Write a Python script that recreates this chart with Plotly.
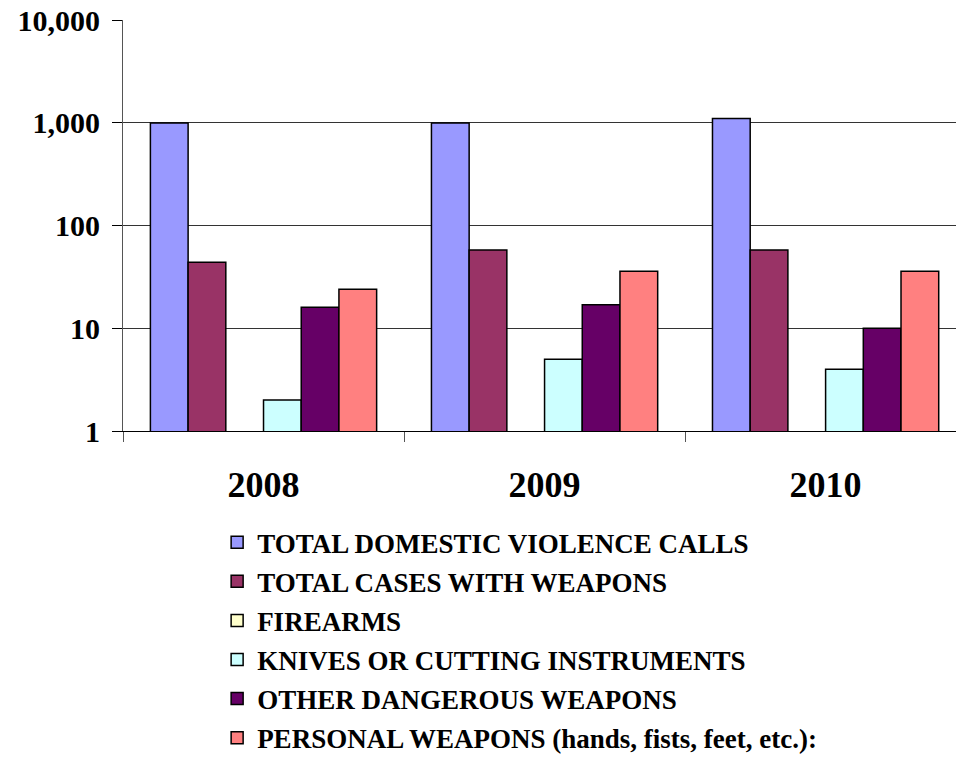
import plotly.graph_objects as go

years = ["2008", "2009", "2010"]
series_names = [
    "TOTAL DOMESTIC VIOLENCE CALLS",
    "TOTAL CASES WITH WEAPONS",
    "FIREARMS",
    "KNIVES OR CUTTING INSTRUMENTS",
    "OTHER DANGEROUS WEAPONS",
    "PERSONAL WEAPONS (hands, fists, feet, etc.):",
]
total_calls = [1000, 1000, 1105]
total_weapons = [44, 58, 58]
firearms = [0, 0, 0]
knives = [2, 5, 4]
other_weapons = [16, 17, 10]
personal_weapons = [24, 36, 36]
colors = ["#9999FF", "#993366", "#FFFFCC", "#CCFFFF", "#660066", "#FF8080"]

y_tickvals = [1, 10, 100, 1000, 10000]
y_ticktext = ["1", "10", "100", "1,000", "10,000"]

series_values = [total_calls, total_weapons, firearms, knives, other_weapons, personal_weapons]

fig = go.Figure()
for i, (name, vals, col) in enumerate(zip(series_names, series_values, colors)):
    fig.add_trace(go.Bar(
        x=years, y=vals, name="<b>" + name + "</b>",
        marker=dict(color=col, line=dict(color="black", width=1.5)),
        legendgroup="g%d" % i,
    ))

font_family = "Liberation Serif, Times New Roman, serif"
fig.update_layout(
    width=956, height=770,
    margin=dict(l=123, r=0, t=20, b=339, autoexpand=False),
    paper_bgcolor="white", plot_bgcolor="white",
    barmode="group", bargap=0.195, bargroupgap=0,
    font=dict(family=font_family, color="black"),
    showlegend=True,
    legend=dict(
        x=0.113, y=-0.212, xanchor="left", yanchor="top",
        font=dict(family=font_family, size=27, color="black"),
        tracegroupgap=1, itemwidth=30,
        bgcolor="rgba(0,0,0,0)",
    ),
)
fig.update_xaxes(
    type="category", range=[-0.5, 2.464], automargin=False,
    showline=True, linecolor="black", linewidth=1,
    ticks="outside", tickson="boundaries", ticklen=10, tickcolor="#555",
    tickfont=dict(family=font_family, size=36, color="black", weight="bold"),
    ticklabelstandoff=22,
    showgrid=False, zeroline=False,
)
fig.update_yaxes(
    type="log", range=[0, 4.002], automargin=False,
    tickvals=y_tickvals, ticktext=y_ticktext,
    showline=True, linecolor="#555", linewidth=1,
    ticks="outside", ticklen=10, tickcolor="black",
    tickfont=dict(family=font_family, size=30, color="black", weight="bold"),
    ticklabelstandoff=6, ticklabeloverflow="allow",
    showgrid=True, gridcolor="#333", gridwidth=1,
    zeroline=False,
)
fig.write_html("out.html", config={"displayModeBar": False},
               post_script="document.body.style.margin='0';")
